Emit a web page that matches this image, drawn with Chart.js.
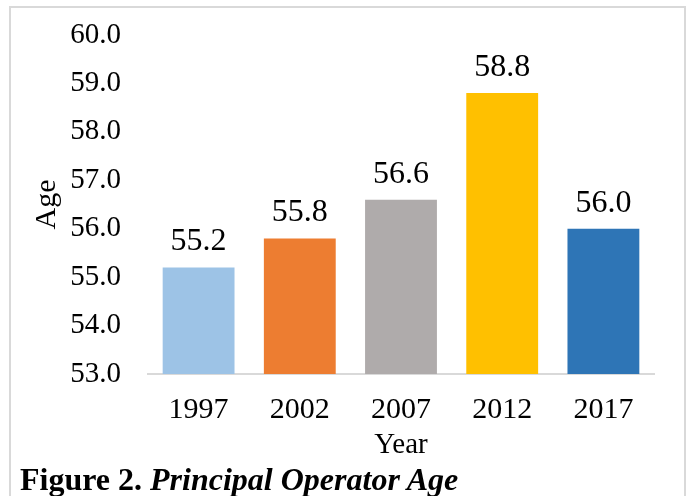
<!DOCTYPE html>
<html>
<head>
<meta charset="utf-8">
<script src="https://cdn.jsdelivr.net/npm/chart.js@4.4.0/dist/chart.umd.min.js"></script>
<style>
    html, body { margin: 0; padding: 0; background: #fff; }
    #wrap { position: relative; width: 687px; height: 496px; overflow: hidden; }
    #frame { position: absolute; left: 9px; top: 6px; width: 673px; height: 520px; border: 2px solid #d9d9d9; }
    #chart { position: absolute; left: 0; top: 0; }
    #caption {
        position: absolute; left: 20px; top: 461px;
        font-family: 'Liberation Serif', 'Times New Roman', serif;
        font-size: 32px; font-weight: bold; color: #000; white-space: nowrap;
    }
</style>
</head>
<body>
<div id="wrap">
    <div id="frame"></div>
    <canvas id="chart" width="687" height="496"></canvas>
    <div id="caption">Figure 2. <i>Principal Operator Age</i></div>
</div>
<script>
    const years = ['1997', '2002', '2007', '2012', '2017'];
    const ages = [55.2, 55.8, 56.6, 58.8, 56.0];
    const barColors = ['#9dc3e6', '#ed7d31', '#afabab', '#ffc000', '#2e75b6'];
    const yMin = 53;
    const yMax = 60;

    const serif = "'Liberation Serif', 'Times New Roman', serif";

    // values above each bar
    const valueLabels = {
        id: 'valueLabels',
        afterDatasetsDraw(chart) {
            const ctx = chart.ctx;
            const meta = chart.getDatasetMeta(0);
            ctx.save();
            ctx.font = '32px ' + serif;
            ctx.fillStyle = '#000';
            ctx.textAlign = 'center';
            ctx.textBaseline = 'alphabetic';
            meta.data.forEach((bar, i) => {
                ctx.fillText(ages[i].toFixed(1), bar.x, bar.y - 17);
            });
            ctx.restore();
        }
    };

    new Chart(document.getElementById('chart'), {
        type: 'bar',
        data: {
            labels: years,
            datasets: [{
                data: ages,
                backgroundColor: barColors,
                borderWidth: 0,
                barPercentage: 0.71,
                categoryPercentage: 1
            }]
        },
        options: {
            responsive: false,
            animation: false,
            layout: { padding: { top: 35, right: 33, bottom: 0, left: 10 } },
            plugins: {
                legend: { display: false },
                tooltip: { enabled: false }
            },
            scales: {
                x: {
                    grid: { display: false, drawTicks: false },
                    border: { display: true, color: '#d9d9d9', width: 2 },
                    ticks: { color: '#000', padding: 18, font: { family: serif, size: 30 } },
                    title: {
                        display: true, text: 'Year', color: '#000',
                        font: { family: serif, size: 29 },
                        padding: { top: 0, bottom: 33 }
                    },
                    afterFit(scale) {
                        scale.height = 122;
                        scale.paddingLeft = 0;
                        scale.paddingRight = 0;
                    }
                },
                y: {
                    min: yMin,
                    max: yMax,
                    grid: { display: false, drawTicks: false },
                    border: { display: false },
                    ticks: {
                        stepSize: 1, color: '#000', padding: 27,
                        font: { family: serif, size: 29 },
                        callback: v => Number(v).toFixed(1)
                    },
                    title: {
                        display: true, text: 'Age', color: '#000',
                        font: { family: serif, size: 30 },
                        padding: { top: 19, bottom: 0 }
                    },
                    afterFit(scale) {
                        scale.width = 138;
                        scale.paddingTop = 0;
                        scale.paddingBottom = 0;
                    }
                }
            }
        },
        plugins: [valueLabels]
    });
</script>
</body>
</html>
